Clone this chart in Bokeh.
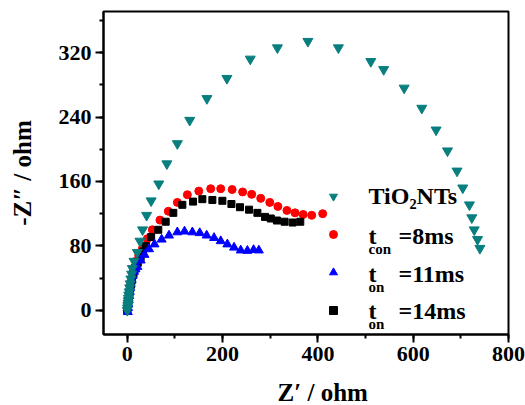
from bokeh.plotting import figure
from bokeh.models import Range1d, SingleIntervalTicker, Legend, LegendItem, Label, Title
from bokeh.embed import file_html
from bokeh.resources import INLINE

# TiO2 nanotubes
tio2_x = [0, 0.5, 1, 1.5, 2, 2.5, 3, 4, 5, 6, 7.5, 9, 10.5, 14, 21, 26.5, 32, 40.5, 50, 66,
          83, 105, 131, 167, 209, 258, 315, 379, 443, 511, 538, 581, 618, 648, 672, 692,
          704, 718, 723, 728, 735, 740]
tio2_y = [0, 3, 6, 9, 12, 15, 19, 23, 28, 33, 39, 45, 52, 61, 72, 86, 100, 118, 136, 157,
          182, 207, 236, 263, 288, 312, 326, 334, 326, 309, 299, 276, 251, 224, 198, 173,
          152, 131, 115, 100, 88, 77]

# t_con = 8 ms
s8_x = [0, 1, 2, 3, 4, 5, 7, 9, 11, 14, 18, 24, 31.5, 42, 52.5, 68.5, 86, 105, 126, 150,
        175, 196, 220, 242, 261, 280, 299, 316, 335, 352, 369, 387, 410]
s8_y = [0, 5, 10, 15, 20, 26, 32, 39, 46, 53, 61, 68, 76.5, 89, 100, 112, 123, 134, 143.5, 148,
        151, 151, 150, 147, 144, 139, 134, 129, 124, 121, 119, 118, 120]

# t_on = 11 ms
s11_x = [1, 1.5, 2, 3, 4, 5, 6, 7, 9, 11, 14, 17, 21, 28, 36, 45.5, 57, 72, 87.5, 105, 120,
         136.5, 152, 166.5, 182, 196, 210, 224, 238, 252, 265, 276]
s11_y = [-2, 3, 8, 13, 18, 23, 28, 33, 38, 43, 48, 51, 54, 62, 69, 76, 82, 88, 93, 97, 98,
         97, 96, 93, 90, 86, 82, 78, 74.5, 74, 75, 74.5]

# t_on = 14 ms
s14_x = [0, 1, 2, 3, 4, 6, 8, 10, 13, 17, 22, 28, 33, 39, 50, 65, 80.5, 96.5, 115.5, 138,
         157.5, 178.5, 199.5, 218.5, 236.5, 255.5, 273, 289, 301, 314, 330, 347, 363]
s14_y = [0, 5, 10, 15, 20, 26, 32, 38, 45, 52, 59, 66, 73, 80, 91, 100, 110, 121, 131, 135,
         138, 137, 136, 132, 128, 125, 121, 116, 114, 111.5, 110, 109, 110]

x_ticks_interval = 200
y_ticks_interval = 80

legend_names = ["TiO\u2082NTs", "t", "t", "t"]
legend_subs = ["", "con", "on", "on"]
legend_rest = ["", "=8ms", "=11ms", "=14ms"]

FONT = "Liberation Serif"

p = figure(frame_width=405, frame_height=323,
           x_range=Range1d(-50, 800), y_range=Range1d(-30, 371),
           output_backend="svg", toolbar_location=None,
           min_border_left=103, min_border_right=17, min_border_top=11, min_border_bottom=71)

p.xgrid.visible = False
p.ygrid.visible = False
p.background_fill_color = "white"
p.border_fill_color = "white"
p.outline_line_color = "black"
p.outline_line_width = 2

p.xaxis.ticker = SingleIntervalTicker(interval=x_ticks_interval, num_minor_ticks=2)
p.yaxis.ticker = SingleIntervalTicker(interval=y_ticks_interval, num_minor_ticks=2)

for ax in (p.xaxis[0], p.yaxis[0]):
    ax.axis_line_width = 2
    ax.axis_line_color = "black"
    ax.major_tick_line_width = 2
    ax.minor_tick_line_width = 2
    ax.major_tick_in = 0
    ax.major_tick_out = 8
    ax.minor_tick_in = 0
    ax.minor_tick_out = 4
    ax.major_label_text_font = FONT
    ax.major_label_text_font_style = "bold"
    ax.major_label_text_font_size = "22px"
    ax.major_label_text_color = "black"
    ax.major_label_standoff = 4

p.yaxis.axis_label = "-Z\u2033 / ohm"
p.yaxis.axis_label_text_font = FONT
p.yaxis.axis_label_text_font_style = "bold"
p.yaxis.axis_label_text_font_size = "25px"
p.yaxis.axis_label_text_color = "black"
p.yaxis.axis_label_standoff = 20

r8 = p.scatter(s8_x, s8_y, marker="circle", size=8, color="#FF0000")
r14 = p.scatter(s14_x, s14_y, marker="square", size=7, color="black")
r11 = p.scatter(s11_x, s11_y, marker="triangle", size=9, color="#0000FF")
rt = p.scatter(tio2_x, tio2_y, marker="inverted_triangle", size=10, color="#087E7E")

# legend markers only; legend texts are drawn as labels next to them
legend = Legend(items=[
    LegendItem(label=" ", renderers=[r]) for r in (rt, r8, r11, r14)
], location=(220, 11), glyph_width=20, glyph_height=26, label_height=26, label_width=5,
    spacing=12, label_standoff=2, padding=0, margin=0,
    border_line_color=None, background_fill_alpha=0,
    label_text_font=FONT, label_text_font_size="10px")
p.add_layout(legend)

def lab(text, x, y, size):
    p.add_layout(Label(text=text, x=x, y=y, x_units="screen", y_units="screen",
                       text_font=FONT, text_font_style="bold", text_font_size=size,
                       text_align="left", text_baseline="middle", text_color="black"))

mids = [139, 99, 61, 24]
for ym, name, sub, rest in zip(mids, legend_names, legend_subs, legend_rest):
    lab(name, 265, ym, "24px")
    if sub:
        lab(sub, 265, ym - 13, "15px")
    if rest:
        lab(rest, 295, ym, "24px")

p.add_layout(Title(text="Z\u2032 / ohm", align="left", offset=174, standoff=27,
                   text_font=FONT, text_font_style="bold", text_font_size="25px",
                   text_color="black"), "below")

open("out.html", "w").write(file_html(p, INLINE))
